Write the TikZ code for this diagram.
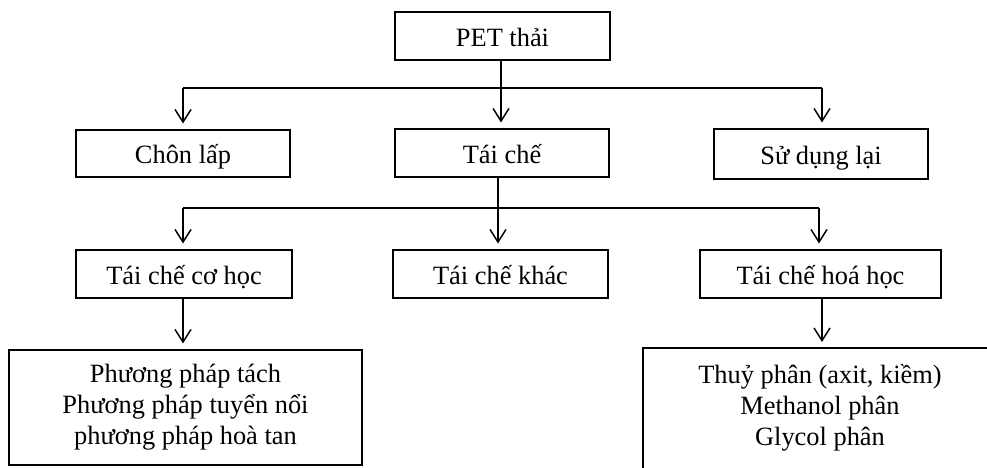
\documentclass[tikz,border=0pt]{standalone}
\usepackage{fontspec}
\setmainfont{Liberation Serif}
\usetikzlibrary{arrows.meta}

\tikzset{
  box/.style={draw, line width=0.8pt, minimum width=160.5pt, minimum height=36pt, inner sep=0pt, text height=19pt, text depth=3.75pt, font=\fontsize{19.8}{23.25}\selectfont},
  txt/.style={inner sep=0pt, align=center, font=\fontsize{19.8}{23.25}\selectfont},
  link/.style={line width=1.1pt},
  arr/.style={line width=1.1pt, -{Straight Barb[length=9.5pt,width=12pt,line width=1.1pt]}, shorten >=4.5pt}
}

\begin{document}
\begin{tikzpicture}[x=0.75pt,y=0.75pt,yscale=-1,xscale=1]
    \useasboundingbox (0,0) rectangle (987,467);
    
    % Text Node
    \node [box, minimum width=161.25pt] (pet) at (502.5,36) {PET thải};
    % Text Node
    \node [box, minimum height=35.25pt] (chon) at (183,153.5) {Chôn lấp};
    % Text Node
    \node [box] (taiche) at (502,153) {Tái chế};
    % Text Node
    \node [box, minimum height=37.5pt] (sudung) at (821,154) {Sử dụng lại};
    % Text Node
    \node [box, minimum width=162pt] (coho) at (184,274) {Tái chế cơ học};
    % Text Node
    \node [box, minimum width=161.25pt] (khac) at (500.5,274) {Tái chế khác};
    % Text Node
    \node [box, minimum width=180.75pt] (hoa) at (820.5,274) {Tái chế hoá học};
    % Text Node
    \node [box, text height=, text depth=, minimum width=264.75pt, minimum height=86.25pt, align=center] (mech) at (185.5,407.5) {Phương pháp tách\\Phương pháp tuyển nổi\\phương pháp hoà tan};
    % Text Node
    \node [txt] (chem) at (820,408) {Thuỷ phân (axit, kiềm)\\Methanol phân\\Glycol phân};
    %Shape: Rectangle cut by the page
    \begin{scope}
    \clip (0,0) rectangle (987,467);
    \draw [line width=0.8pt] (643,348) rectangle (1000,490);
    \end{scope}
    \coordinate (chemtop) at (822,348);
    
    % Bus lines
    \coordinate (busa) at (501,88);
    \coordinate (busal) at (183,88);
    \coordinate (busar) at (822,88);
    \coordinate (busb) at (498,208);
    \coordinate (busbl) at (183,208);
    \coordinate (busbr) at (819,208);
    \draw [link] (pet.south -| busa) -- (busa);
    \draw [link] (busal) -- (busar);
    \draw [link] (taiche.south -| busb) -- (busb);
    \draw [link] (busbl) -- (busbr);
    
    % Arrows
    \draw [arr] (busal) -- (busal |- chon.north);
    \draw [arr] (busa) -- (busa |- taiche.north);
    \draw [arr] (busar) -- (busar |- sudung.north);
    \draw [arr] (busbl) -- (busbl |- coho.north);
    \draw [arr] (busb) -- (busb |- khac.north);
    \draw [arr] (busbr) -- (busbr |- hoa.north);
    \draw [arr] (coho.south -| busbl) -- (busbl |- mech.north);
    \draw [arr] (hoa.south -| chemtop) -- (chemtop);
    
    
\end{tikzpicture}
\end{document}
